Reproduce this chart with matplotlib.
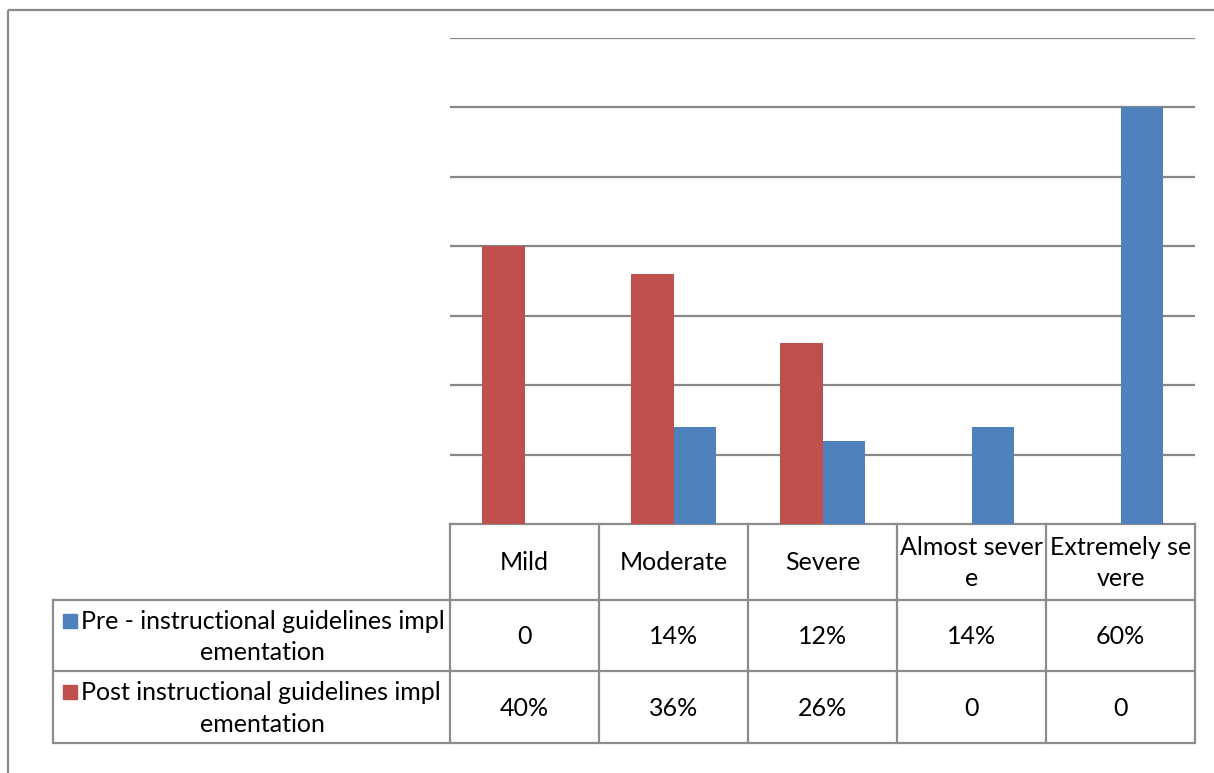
import matplotlib
matplotlib.use("Agg")
import matplotlib.pyplot as plt
from matplotlib.patches import Rectangle
import numpy as np

plt.rcParams["font.family"] = ["Lato", "DejaVu Sans"]

categories = ["Mild", "Moderate", "Severe", "Almost severe", "Extremely severe"]
header_labels = ["Mild", "Moderate", "Severe", "Almost sever\ne", "Extremely se\nvere"]
pre = [0, 14, 12, 14, 60]
post = [40, 36, 26, 0, 0]
pre_text = ["0", "14%", "12%", "14%", "60%"]
post_text = ["40%", "36%", "26%", "0", "0"]
series_names = ["Pre - instructional guidelines impl\nementation",
                "Post instructional guidelines impl\nementation"]

BLUE = "#4F81BD"
RED = "#C0504D"
GRID = "#878787"
LINE = "#8c8c8c"

W, H = 1214, 773
fig = plt.figure(figsize=(W / 100, H / 100), dpi=100)

# overlay axes in pixel coords for frame + data table
ov = fig.add_axes([0, 0, 1, 1])
ov.set_xlim(0, W)
ov.set_ylim(H, 0)
ov.axis("off")

# chart frame (runs off the right/bottom edge)
ov.add_patch(Rectangle((7.5, 9.5), W + 20, H + 20, fill=False,
                       edgecolor="#8a8a8a", lw=1.6, zorder=1))

# plot area
x0, x1, ytop, ybot = 450, 1195, 38, 524
ax = fig.add_axes([x0 / W, 1 - ybot / H, (x1 - x0) / W, (ybot - ytop) / H])
x = np.arange(len(categories))
w = 1 / 3.5
ax.bar(x - w / 2, post, w, color=RED, zorder=3)
ax.bar(x + w / 2, pre, w, color=BLUE, zorder=3)
ax.set_xlim(-0.5, len(categories) - 0.5)
ax.set_ylim(0, 70)
ax.set_yticks(np.arange(10, 71, 10))
ax.grid(axis="y", color=GRID, lw=1.6, zorder=0)
ax.tick_params(left=False, bottom=False, labelleft=False, labelbottom=False)
for s in ax.spines.values():
    s.set_visible(False)
ax.patch.set_alpha(0)

# data table
col_edges = np.linspace(x0, x1, len(categories) + 1)
row_y = [524, 600, 671, 743]
lab_x0 = 53
kw = dict(color=LINE, lw=1.6, zorder=2)
ov.plot([x0, x1], [row_y[0], row_y[0]], **kw)
for yy in row_y[1:]:
    ov.plot([lab_x0, x1], [yy, yy], **kw)
for xx in col_edges:
    ov.plot([xx, xx], [row_y[0], row_y[3]], **kw)
ov.plot([lab_x0, lab_x0], [row_y[1], row_y[3]], **kw)

fs = 18
centers = (col_edges[:-1] + col_edges[1:]) / 2
for cx, lab in zip(centers, header_labels):
    ov.text(cx, (row_y[0] + row_y[1]) / 2 + 1, lab, ha="center", va="center",
            fontsize=fs, linespacing=1.45)
for r, (vals, name, col) in enumerate([(pre_text, series_names[0], BLUE),
                                       (post_text, series_names[1], RED)]):
    ymid = (row_y[r + 1] + row_y[r + 2]) / 2
    for cx, v in zip(centers, vals):
        ov.text(cx, ymid + 1, v, ha="center", va="center", fontsize=fs)
    line1, line2 = name.split("\n")
    ov.add_patch(Rectangle((63, ymid - 22), 14, 14, color=col, zorder=3))
    ov.text(81, ymid - 14, line1, ha="left", va="center", fontsize=fs)
    ov.text(262, ymid + 17, line2, ha="center", va="center", fontsize=fs)

fig.savefig("out.png", dpi=100)
